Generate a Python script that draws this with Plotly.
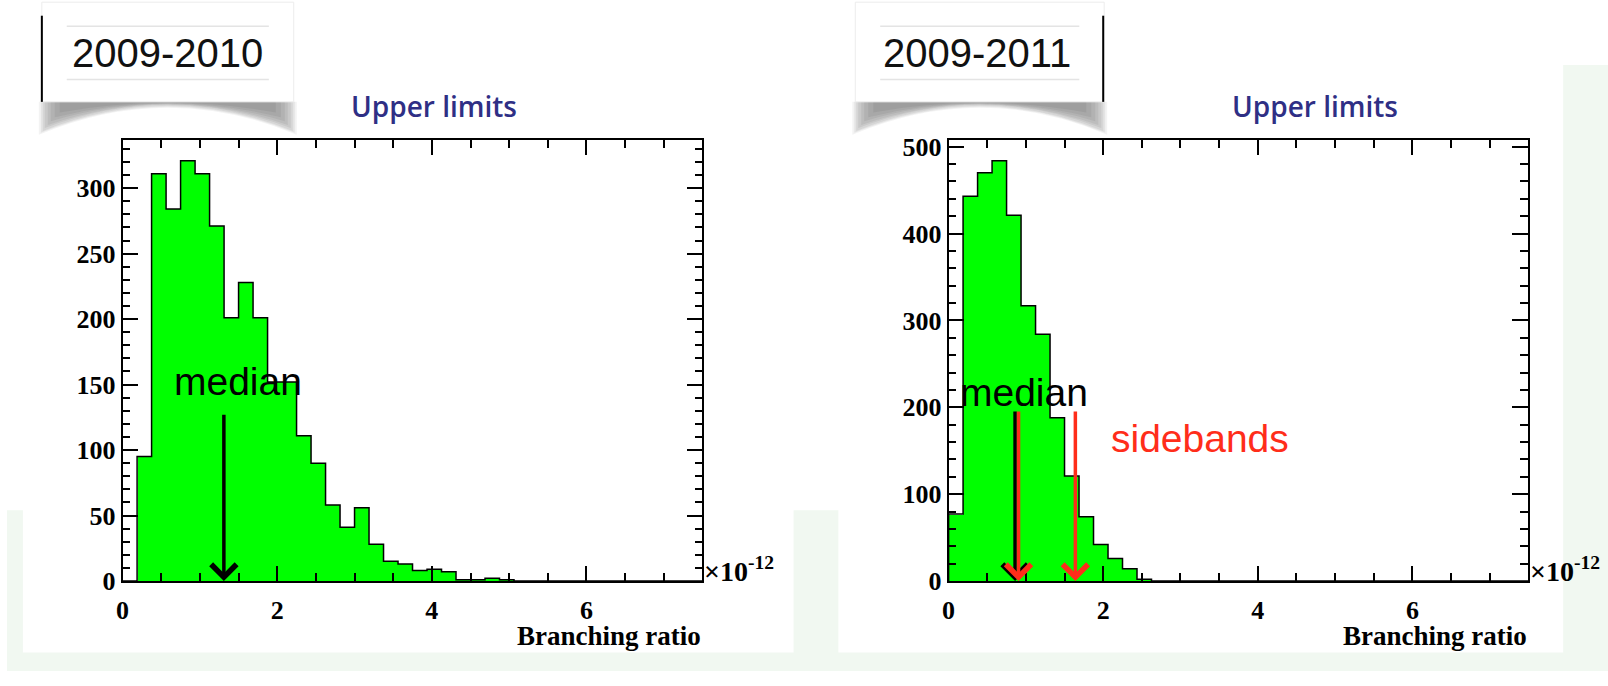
import plotly.graph_objects as go
from plotly.subplots import make_subplots

# Histogram binning (units of 1e-12)
bin_width = 0.1875
n_bins = 40

# Upper-limit distributions from toy experiments
counts_2010 = [0, 95, 311, 284, 321, 311, 271, 201, 228, 201,
               152, 152, 111, 90, 58, 41, 56, 28, 15, 13,
               8, 9, 7, 1, 1, 2, 1, 0, 0, 0,
               0, 0, 0, 0, 0, 0, 0, 0, 0, 0]
counts_2011 = [77, 443, 470, 484, 421, 317, 284, 188, 121, 74,
               42, 26, 14, 2, 0, 0, 0, 0, 0, 0,
               0, 0, 0, 0, 0, 0, 0, 0, 0, 0,
               0, 0, 0, 0, 0, 0, 0, 0, 0, 0]

# Marker positions
median_2010 = 1.31
median_2011 = 0.86
sidebands_2011 = [0.905, 1.64]
arrow_top_2010 = 128
arrow_top_2011 = 197

period_labels = ["2009-2010", "2009-2011"]
x_ticks = [0, 2, 4, 6]

W, H = 1608, 686
GREEN = "#00ff00"
RED = "#ff2d1a"
TITLE_BLUE = "#2f2f85"


def px(x):
    return x / W


def py(y):
    return 1 - y / H


edges = [i * bin_width for i in range(n_bins + 1)]
centers = [(edges[i] + edges[i + 1]) / 2 for i in range(n_bins)]

fig = make_subplots(rows=1, cols=2)

for col, counts in ((1, counts_2010), (2, counts_2011)):
    fig.add_trace(go.Bar(x=centers, y=counts, width=bin_width,
                         marker=dict(color=GREEN, line=dict(width=0)),
                         showlegend=False, hoverinfo="skip"), row=1, col=col)
    ox = [edges[0]] + edges[:n_bins] + [edges[n_bins]]
    oy = [0] + list(counts) + [0]
    fig.add_trace(go.Scatter(x=ox, y=oy, mode="lines", line_shape="hv",
                             line=dict(color="black", width=1.5),
                             showlegend=False, hoverinfo="skip"), row=1, col=col)

tick_font = dict(family="Liberation Serif", size=26, color="black", weight="bold")

x_domains = [[px(116.1), px(698.5)], [px(945.7), px(1528.0)]]
y_domain = [py(593), py(137)]
y_steps = [(50, 10), (100, 20)]
maxima = [max(counts_2010), max(counts_2011)]

for i in range(2):
    xa = "xaxis" if i == 0 else "xaxis2"
    ya = "yaxis" if i == 0 else "yaxis2"
    fig.layout[xa].update(
        domain=x_domains[i], range=[0, 7.5], tickvals=x_ticks,
        ticks="inside", ticklen=15, tickwidth=1.5, tickcolor="black",
        showline=True, linecolor="black", linewidth=1.8, mirror="ticks",
        showgrid=False, zeroline=False, tickfont=tick_font,
        ticklabelstandoff=5,
        minor=dict(dtick=0.5, ticks="inside", ticklen=8, tickwidth=1.5,
                   tickcolor="black", showgrid=False),
    )
    major, minor = y_steps[i]
    fig.layout[ya].update(
        domain=y_domain, range=[0, maxima[i] * 1.05], dtick=major, tick0=0,
        ticks="inside", ticklen=16, tickwidth=1.5, tickcolor="black",
        showline=True, linecolor="black", linewidth=1.8, mirror="ticks",
        showgrid=False, zeroline=False, tickfont=tick_font,
        ticklabelstandoff=0,
        minor=dict(dtick=minor, ticks="inside", ticklen=8, tickwidth=1.5,
                   tickcolor="black", showgrid=False),
    )

shapes = []
TINT = "#f1f8f1"
# slide background tint outside the white panels
shapes.append(dict(type="rect", xref="paper", yref="paper", layer="below",
                   x0=0, x1=1, y0=0, y1=py(667), fillcolor=TINT, line_width=0))
shapes.append(dict(type="rect", xref="paper", yref="paper", layer="below",
                   x0=px(1563), x1=1, y0=0, y1=py(60), fillcolor=TINT, line_width=0))
shapes.append(dict(type="rect", xref="paper", yref="paper", layer="below",
                   x0=px(790), x1=px(835), y0=0, y1=py(520), fillcolor=TINT, line_width=0))
shapes.append(dict(type="rect", xref="paper", yref="paper", layer="below",
                   x0=0, x1=px(16), y0=0, y1=py(520), fillcolor=TINT, line_width=0))

# Period label boxes with curled shadow beneath
boxes = [(35, 288, 35), (852, 1102, 1101)]
layers = [(34, 6, -3, 0.06), (32, 5, -1, 0.07), (30, 4, 1, 0.08), (27, 3, 3, 0.08),
          (24, 2.5, 6, 0.08), (20, 2, 9, 0.08), (16, 1.5, 13, 0.08), (11, 1, 18, 0.08)]
for (bx0, bx1, bar_x) in boxes:
    cx = (bx0 + bx1) / 2
    for depth, apex, inset, op in layers:
        a0, a1 = bx0 + inset, bx1 - inset
        ey = 98 + depth
        ay = 98 + apex
        cy = 2 * ay - ey
        path = (f"M {px(a0)},{py(98)} L {px(a1)},{py(98)} L {px(a1)},{py(ey)} "
                f"Q {px(cx)},{py(cy)} {px(a0)},{py(ey)} Z")
        shapes.append(dict(type="path", xref="paper", yref="paper", path=path,
                           fillcolor="#303030", opacity=op, line_width=0, layer="below"))
    shapes.append(dict(type="rect", xref="paper", yref="paper", layer="below",
                       x0=px(bx0), x1=px(bx1), y0=py(98), y1=py(-5),
                       fillcolor="white", line=dict(color="#ececec", width=1)))
    shapes.append(dict(type="line", xref="paper", yref="paper",
                       x0=px(bar_x), x1=px(bar_x), y0=py(9), y1=py(98),
                       line=dict(color="black", width=2)))
    for ly in (20, 75):
        shapes.append(dict(type="line", xref="paper", yref="paper",
                           x0=px(bx0 + 25), x1=px(bx1 - 25), y0=py(ly), y1=py(ly),
                           line=dict(color="#e4e4e4", width=1.5)))

annotations = []
label_centers = [161, 974]
for lab, cxl in zip(period_labels, label_centers):
    annotations.append(dict(text=lab, xref="paper", yref="paper", x=px(cxl), y=py(48),
                            xanchor="center", yanchor="middle", showarrow=False,
                            font=dict(family="Liberation Sans", size=40, color="#111111")))

for tx in (429, 1314):
    annotations.append(dict(text="Upper limits", xref="paper", yref="paper",
                            x=px(tx), y=py(102), xanchor="center", yanchor="middle",
                            showarrow=False,
                            font=dict(family="Open Sans", size=28, color=TITLE_BLUE,
                                      weight=600)))

for ex, tx in ((699, 698), (1529, 1528)):
    annotations.append(dict(text="×10<sup>-12</sup>", xref="paper", yref="paper",
                            x=px(ex), y=py(581), xanchor="left", yanchor="middle",
                            showarrow=False, borderpad=0,
                            font=dict(family="Liberation Serif", size=28, color="black",
                                      weight="bold")))
    annotations.append(dict(text="Branching ratio", xref="paper", yref="paper",
                            x=px(tx), y=py(650), xanchor="right", yanchor="middle",
                            showarrow=False, borderpad=0,
                            font=dict(family="Liberation Serif", size=27, color="black",
                                      weight="bold")))

text_font = dict(family="Liberation Sans", size=39, color="black")
annotations.append(dict(text="median", xref="paper", yref="paper", x=px(232), y=py(387),
                        xanchor="center", yanchor="middle", showarrow=False, font=text_font))
annotations.append(dict(text="median", xref="paper", yref="paper", x=px(1021), y=py(398),
                        xanchor="center", yanchor="middle", showarrow=False, font=text_font))
annotations.append(dict(text="sidebands", xref="paper", yref="paper", x=px(1198), y=py(446),
                        xanchor="center", yanchor="middle", showarrow=False,
                        font=dict(family="Liberation Sans", size=39, color=RED)))


def arrow(xr, yr, xv, top, color):
    return dict(x=xv, y=0, ax=xv, ay=top, xref=xr, yref=yr, axref=xr, ayref=yr,
                showarrow=True, arrowhead=4, arrowsize=1.4, arrowwidth=3.5,
                arrowcolor=color, text="", standoff=0, startstandoff=0)


annotations.append(arrow("x", "y", median_2010, arrow_top_2010, "black"))
annotations.append(arrow("x2", "y2", median_2011, arrow_top_2011, "black"))
for sb in sidebands_2011:
    annotations.append(arrow("x2", "y2", sb, arrow_top_2011, RED))

fig.update_layout(
    width=W, height=H, margin=dict(l=0, r=0, t=0, b=0),
    paper_bgcolor="white", plot_bgcolor="rgba(0,0,0,0)",
    barmode="overlay", bargap=0, showlegend=False,
    shapes=shapes, annotations=annotations,
)

fig.write_html("out.html")
